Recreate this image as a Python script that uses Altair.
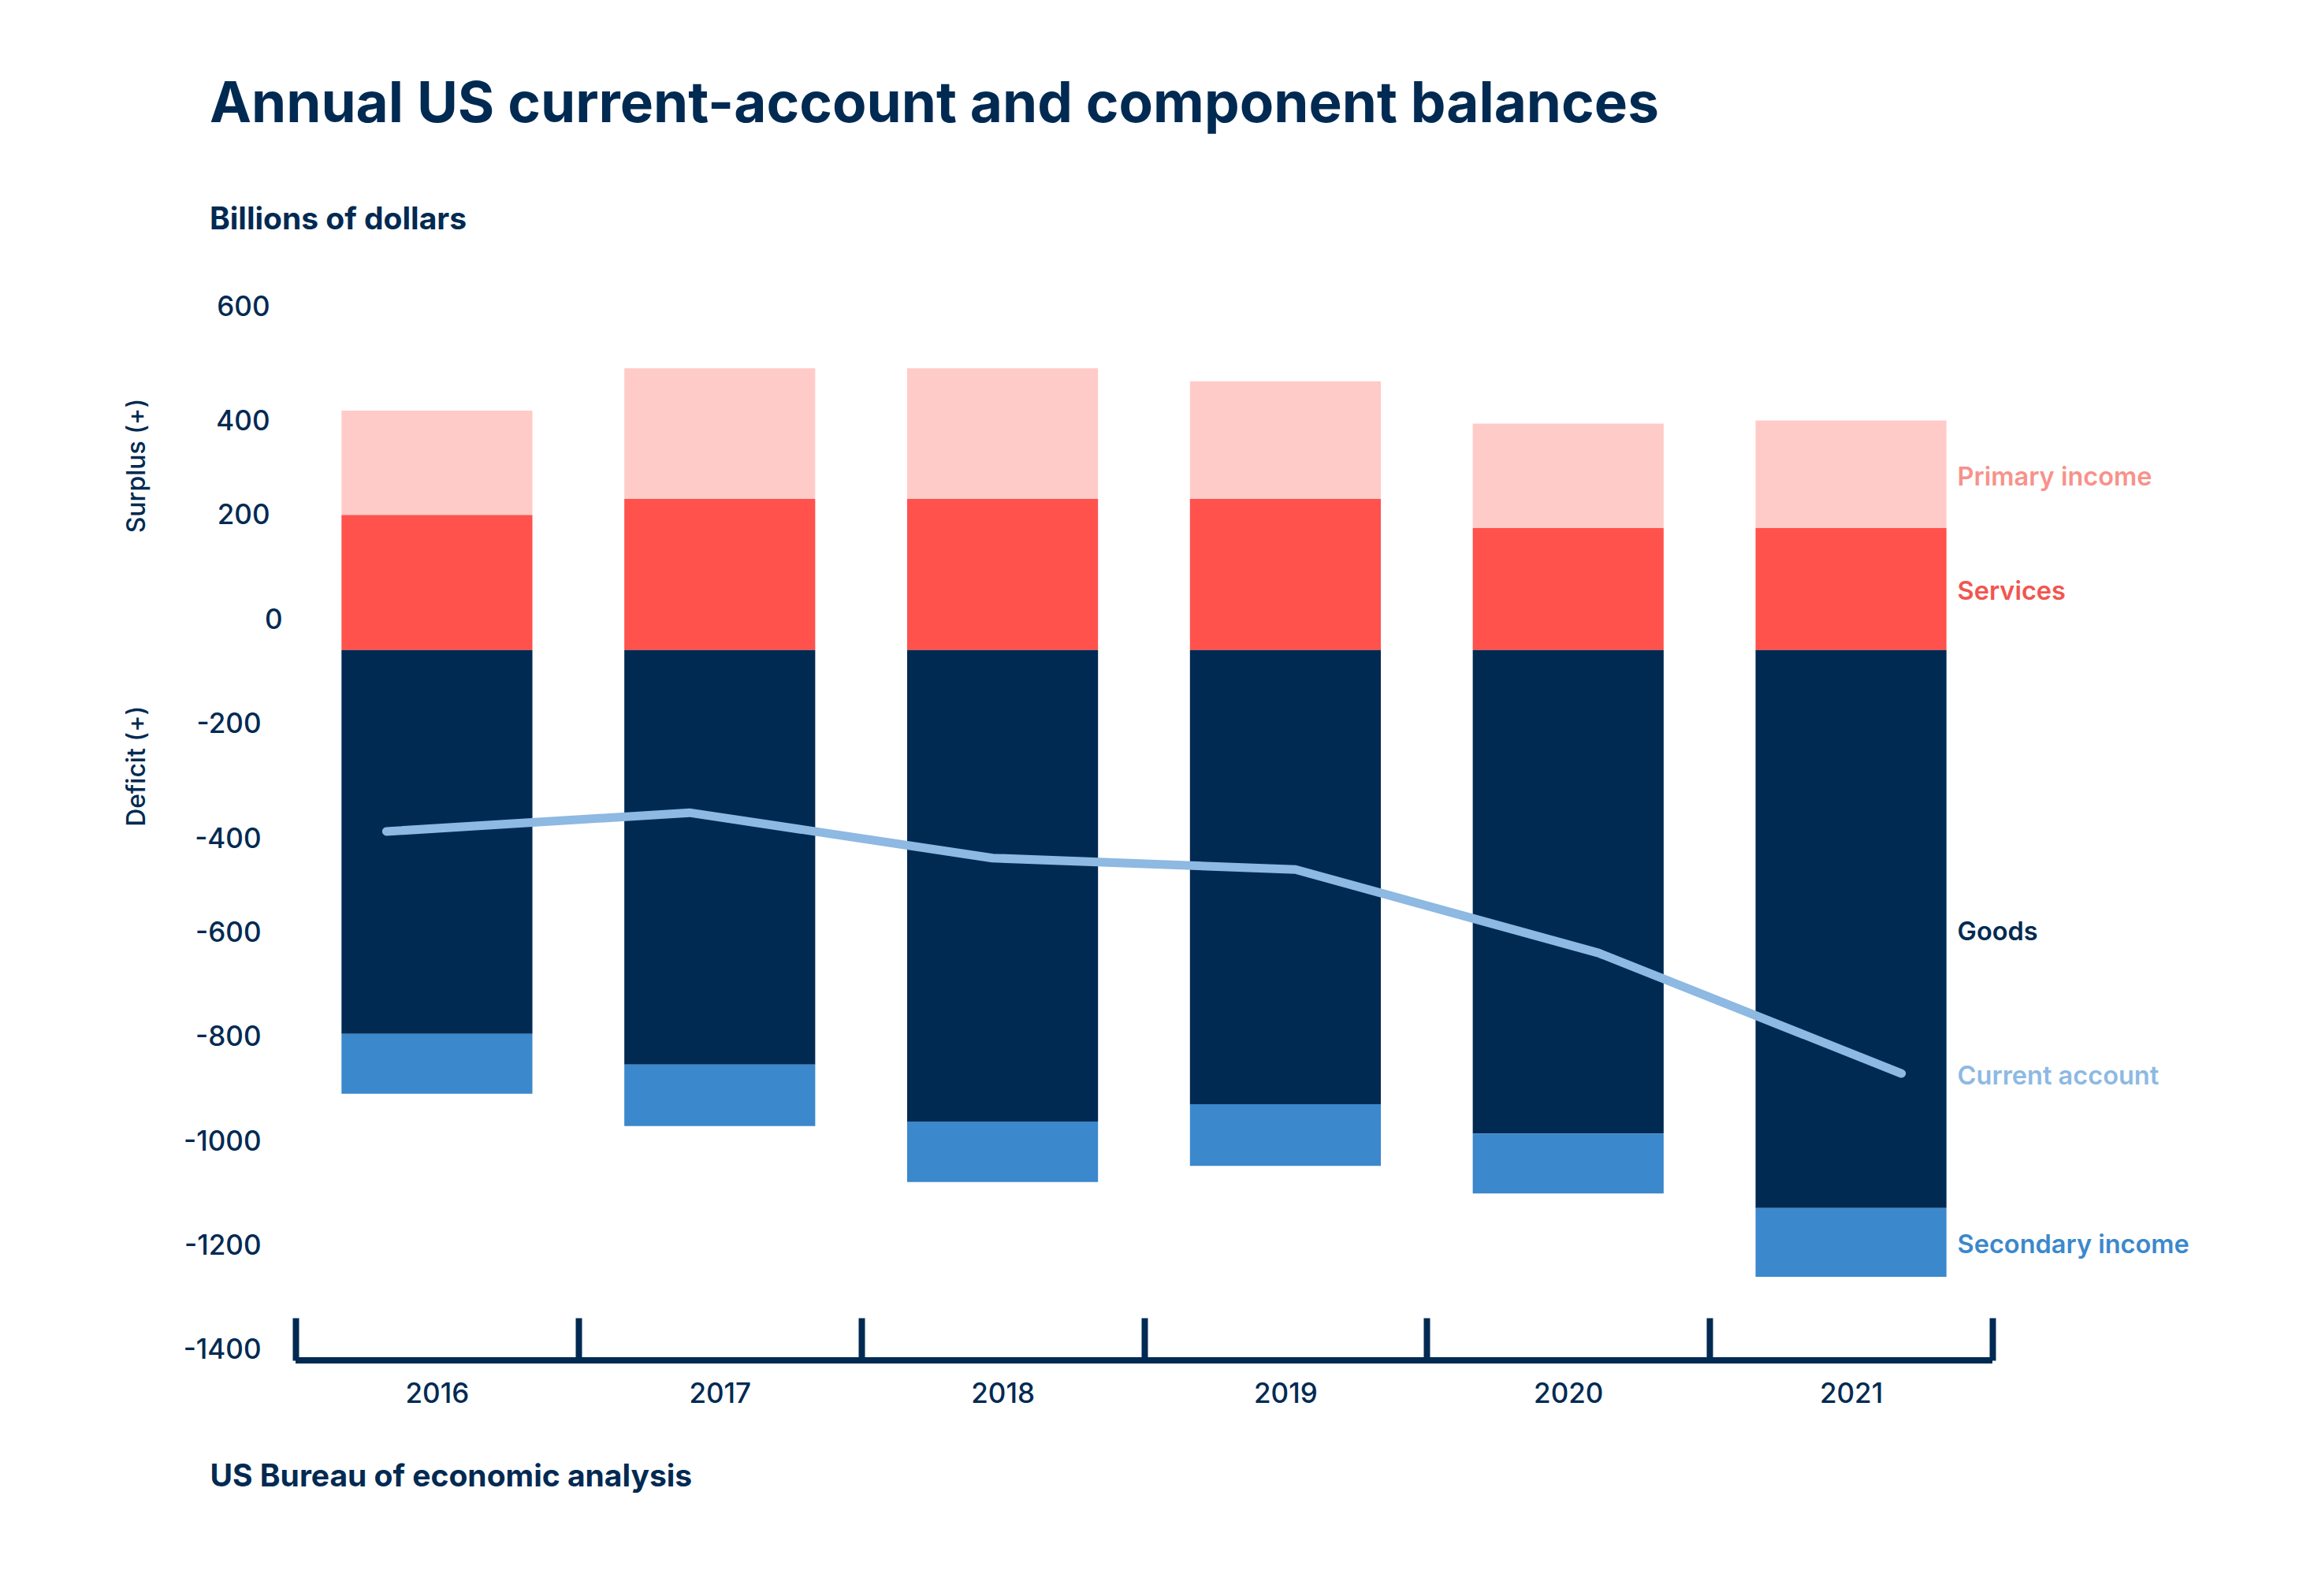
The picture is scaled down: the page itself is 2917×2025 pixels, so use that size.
import altair as alt
import pandas as pd

# ---- data (billions of dollars) ----
years = ["2016", "2017", "2018", "2019", "2020", "2021"]
services = [259, 290, 290, 290, 234, 234]
primary_income = [200, 250, 250, 225, 200, 206]
goods = [-736, -795, -904, -871, -927, -1070]
secondary_income = [-115, -118, -116, -118, -115, -132]
current_account = [-406, -370, -457, -479, -639, -870]
stack_base = -58          # level from which the bars are stacked in the original
y_ticks = list(range(-1400, 601, 200))
y_domain = [-1420, 620]

# ---- styles ----
NAVY = "#012a52"
bar_colors = {
    "Primary income": "#ffcbc8",
    "Services": "#ff524d",
    "Goods": "#012a52",
    "Secondary income": "#3b88cc",
}
label_colors = {
    "Primary income": "#f7928b",
    "Services": "#f2554f",
    "Goods": "#012a52",
    "Current account": "#8db9e2",
    "Secondary income": "#3b88cc",
}
LINE_COLOR = "#8db9e2"
FONT = "Inter"

# ---- tables built from the arrays ----
rows = []
for i, yr in enumerate(years):
    s0 = stack_base
    s1 = s0 + services[i]
    p1 = s1 + primary_income[i]
    g1 = s0 + goods[i]
    q1 = g1 + secondary_income[i]
    rows.append(dict(year=yr, component="Services", y0=s0, y1=s1))
    rows.append(dict(year=yr, component="Primary income", y0=s1, y1=p1))
    rows.append(dict(year=yr, component="Goods", y0=s0, y1=g1))
    rows.append(dict(year=yr, component="Secondary income", y0=g1, y1=q1))
bars_df = pd.DataFrame(rows)

line_df = pd.DataFrame({"year": years, "value": current_account})

last = bars_df[bars_df["year"] == years[-1]].set_index("component")
lab_rows = []
for comp in ["Primary income", "Services", "Goods", "Secondary income"]:
    lab_rows.append(dict(year=years[-1], label=comp,
                         pos=(last.loc[comp, "y0"] + last.loc[comp, "y1"]) / 2,
                         tcolor=label_colors[comp]))
lab_rows.append(dict(year=years[-1], label="Current account",
                     pos=current_account[-1], tcolor=label_colors["Current account"]))
labels_df = pd.DataFrame(lab_rows)

side_df = pd.DataFrame({"side": ["Surplus (+)", "Deficit (+)"], "pos": [295, -281]})

# ---- scales ----
band = alt.Scale(type="band", domain=years, paddingInner=0, paddingOuter=0)
yscale = alt.Scale(domain=y_domain, nice=False, zero=False)

yaxis = alt.Axis(values=y_ticks, title=None, domain=False, ticks=False, tickSize=0,
                 grid=False, labelExpr="datum.value + ''",
                 labelPadding={"condition": [{"test": "datum.value < 0", "value": 44},
                                             {"test": "datum.value == 0", "value": 17}],
                               "value": 33},
                 labelOffset={"condition": {"test": "abs(datum.value) == 400", "value": 13},
                              "value": 0},
                 labelFontSize=35, labelFont=FONT,
                 labelFontWeight=500, labelColor=NAVY)

xaxis = alt.Axis(orient="bottom", offset=-54, tickBand="extent", tickSize=54,
                 tickWidth=8, tickColor=NAVY, domain=False, grid=False,
                 labelPadding=25, labelFontSize=35, labelFont=FONT,
                 labelFontWeight=500, labelColor=NAVY, labelAngle=0,
                 title="US Bureau of economic analysis", titleX=-109, titleY=201,
                 titleAlign="left", titleAnchor="start", titleBaseline="middle",
                 titleFontSize=39, titleFontWeight=700, titleColor=NAVY, titleFont=FONT)

bars = alt.Chart(bars_df).mark_bar(width=alt.RelativeBandSize(0.675)).encode(
    x=alt.X("year:N", scale=band, axis=xaxis),
    y=alt.Y("y0:Q", scale=yscale, axis=yaxis),
    y2="y1:Q",
    color=alt.Color("component:N", legend=None,
                    scale=alt.Scale(domain=list(bar_colors.keys()),
                                    range=list(bar_colors.values()))),
)

line = alt.Chart(line_df).mark_line(strokeWidth=11, strokeCap="round",
                                    strokeJoin="round", color=LINE_COLOR).encode(
    x=alt.X("year:N", scale=alt.Scale(type="point", domain=years, padding=0.3), axis=None),
    y=alt.Y("value:Q", scale=yscale, axis=yaxis),
)

baseline = alt.Chart(pd.DataFrame({"v": [y_domain[0]]})).mark_rule(
    strokeWidth=8, color=NAVY).encode(y=alt.Y("v:Q", scale=yscale, axis=yaxis))

labels = alt.Chart(labels_df).mark_text(align="left", baseline="middle", dx=135, dy=4,
                                        fontSize=32.5, fontWeight=600, font=FONT).encode(
    x=alt.X("year:N", scale=band, axis=None),
    y=alt.Y("pos:Q", scale=yscale, axis=yaxis),
    text="label:N",
    color=alt.Color("tcolor:N", scale=None, legend=None),
)

sides = alt.Chart(side_df).mark_text(angle=270, align="center", baseline="middle",
                                     fontSize=32, fontWeight=500, font=FONT,
                                     color=NAVY).encode(
    x=alt.value(-201),
    y=alt.Y("pos:Q", scale=yscale, axis=yaxis),
    text="side:N",
)

chart = alt.layer(bars, line, baseline, labels, sides).resolve_scale(
    x="independent", color="independent"
).properties(
    width=2153,
    height=1350,
    autosize=alt.AutoSizeParams(type="none"),
    padding={"left": 367, "top": 368, "right": 380, "bottom": 280},
    title=alt.TitleParams(
        text="Annual US current-account and component balances",
        subtitle="Billions of dollars",
        anchor="start", frame="group", dx=-109, offset=72,
        font=FONT, fontSize=71, fontWeight=700, color=NAVY,
        subtitleFont=FONT, subtitleFontSize=39, subtitleFontWeight=700,
        subtitleColor=NAVY, subtitlePadding=90,
    ),
).configure(
    background="white",
    view=alt.ViewConfig(stroke=None),
)

chart.save("out.html", embed_options={"renderer": "svg", "actions": False})
